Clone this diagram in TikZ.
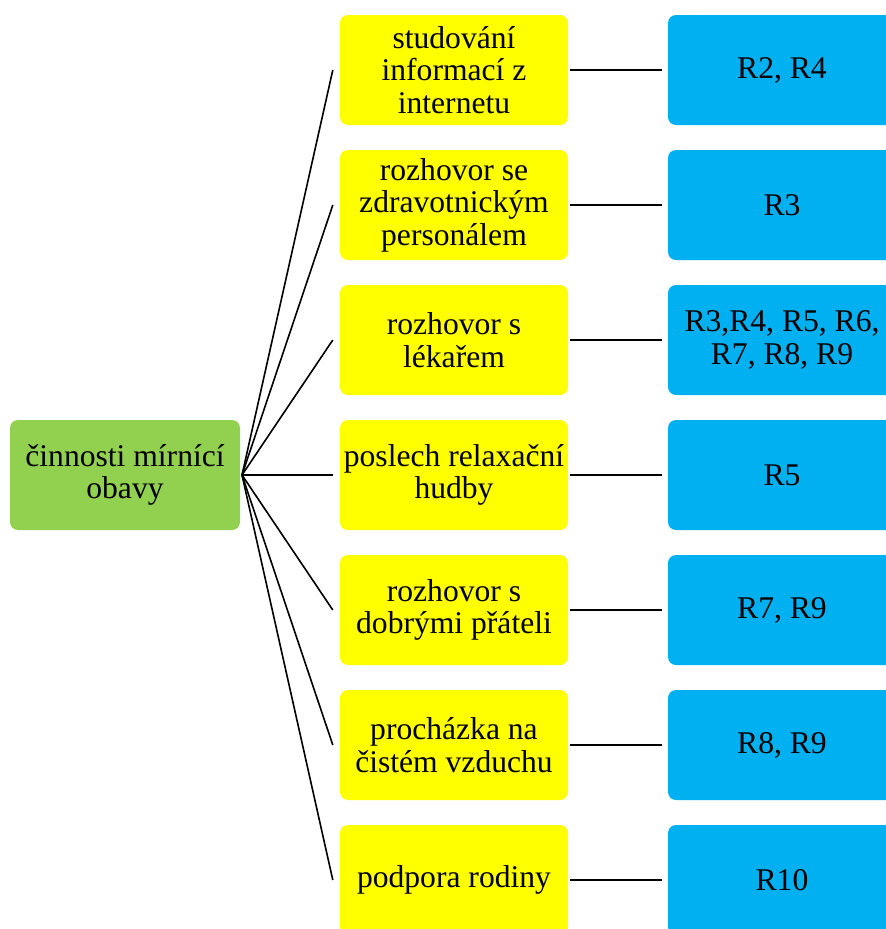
\documentclass[tikz,border=0pt]{standalone}
\usepackage{fontspec}
\setmainfont{Liberation Serif}
\definecolor{leafgreen}{RGB}{146,208,80}
\definecolor{boxyellow}{RGB}{255,255,0}
\definecolor{boxblue}{RGB}{0,176,240}
\tikzset{
  card/.style={rectangle, rounded corners=8pt, minimum width=228pt, minimum height=110pt,
    inner sep=0pt, align=center, font=\fontsize{31.6}{32.5}\selectfont, text=black},
  rootbox/.style={card, fill=leafgreen, minimum width=230pt},
  actbox/.style={card, fill=boxyellow},
  refbox/.style={card, fill=boxblue},
  link/.style={draw=black, line width=1.6pt}
}
\begin{document}
\begin{tikzpicture}[x=1pt,y=-1pt]
\useasboundingbox (0,0) rectangle (886,929);
\clip (0,0) rectangle (886,929);

% root node
\node[rootbox] (root) at (125,475) {činnosti mírnící\\obavy};
\coordinate (hub) at (242,475);

% activities
\node[actbox] (a1) at (454,70)  {studování\\informací z\\internetu};
\node[actbox] (a2) at (454,205) {rozhovor se\\zdravotnickým\\personálem};
\node[actbox] (a3) at (454,340) {rozhovor s\\lékařem};
\node[actbox] (a4) at (454,475) {poslech relaxační\\hudby};
\node[actbox] (a5) at (454,610) {rozhovor s\\dobrými přáteli};
\node[actbox] (a6) at (454,745) {procházka na\\čistém vzduchu};
\node[actbox] (a7) at (454,880) {podpora rodiny};

% respondents
\node[refbox] (r1) at (782,70)  {R2, R4};
\node[refbox] (r2) at (782,205) {R3};
\node[refbox] (r3) at (782,340) {R3,R4, R5, R6,\\R7, R8, R9};
\node[refbox] (r4) at (782,475) {R5};
\node[refbox] (r5) at (782,610) {R7, R9};
\node[refbox] (r6) at (782,745) {R8, R9};
\node[refbox] (r7) at (782,880) {R10};

% connectors
\foreach \i in {1,...,7}{
  \draw[link] (hub) -- ([xshift=-7pt]a\i.west);
  \draw[link] ([xshift=2pt]a\i.east) -- ([xshift=-6pt]r\i.west);
}
\end{tikzpicture}
\end{document}
